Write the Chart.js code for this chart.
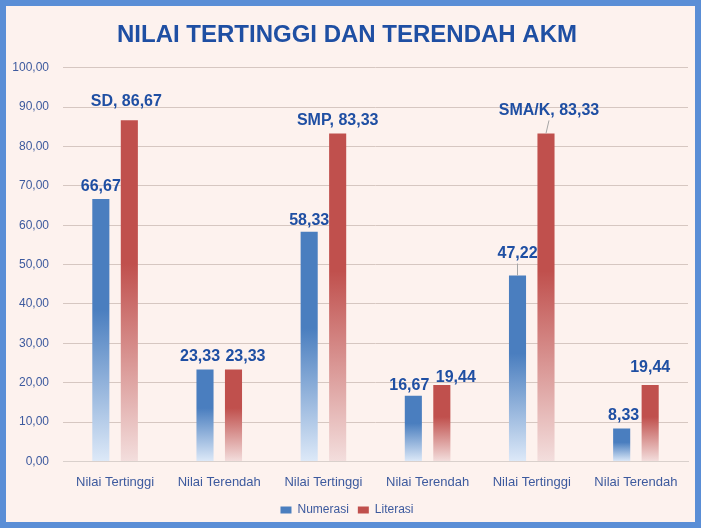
<!DOCTYPE html>
<html lang="en">
<head>
    <meta charset="UTF-8">
    <title>Nilai Tertinggi dan Terendah AKM</title>
    <script src="https://cdn.jsdelivr.net/npm/chart.js"></script>
    <style>
        html, body { margin: 0; padding: 0; background: #fdf2ee; }
        #wrap { width: 701px; height: 528px; }
    </style>
</head>
<body>
    <div id="wrap"><canvas id="akmChart" width="701" height="528"></canvas></div>

    <script>
        // data
        const categories = ["Nilai Tertinggi", "Nilai Terendah", "Nilai Tertinggi", "Nilai Terendah", "Nilai Tertinggi", "Nilai Terendah"];
        const numerasi = [66.67, 23.33, 58.33, 16.67, 47.22, 8.33];
        const literasi = [86.67, 23.33, 83.33, 19.44, 83.33, 19.44];
        const literasiPrefix = ["SD", "", "SMP", "", "SMA/K", ""];
        const yTicks = [0, 10, 20, 30, 40, 50, 60, 70, 80, 90, 100];

        const blueTop = "#4a7ebf", blueBottom = "#dde9f8";
        const redTop = "#c0504d", redBottom = "#f3dedd";

        // label nudges (dx, dy), per dataset
        const labelNudge = [
            [[0, 1], [-5, 0], [0, 2], [-4, 3], [0, -9], [2, 0]],
            [[-3, -6], [12, 0], [0, 0], [14, 6], [3, -10], [0, -4]]
        ];
        const leaderLines = [[4, 0], [4, 1]]; // [category, dataset]

        function fmt(v) { return v.toFixed(2).replace(".", ","); }

        function barGradient(top, bottom) {
            return function (ctx) {
                const chart = ctx.chart;
                if (!chart.chartArea || ctx.type !== "data") return top;
                const y = chart.scales.y;
                const y0 = y.getPixelForValue(ctx.raw);
                const y1 = y.getPixelForValue(0);
                const g = chart.ctx.createLinearGradient(0, y0, 0, y1);
                g.addColorStop(0, top);
                g.addColorStop(0.42, top);
                g.addColorStop(1, bottom);
                return g;
            };
        }

        const framePlugin = {
            id: "frame",
            beforeDraw(chart) {
                const c = chart.ctx;
                c.save();
                c.fillStyle = "#fdf2ee";
                c.fillRect(0, 0, chart.width, chart.height);
                c.strokeStyle = "#5a8ed6";
                c.lineWidth = 6;
                c.strokeRect(3, 3, chart.width - 6, chart.height - 6);
                c.restore();
            }
        };

        const valueLabels = {
            id: "valueLabels",
            afterDatasetsDraw(chart) {
                const c = chart.ctx;
                c.save();
                // leader lines first
                c.strokeStyle = "#a6a6a6";
                c.lineWidth = 1;
                leaderLines.forEach(([i, d]) => {
                    const bar = chart.getDatasetMeta(d).data[i];
                    const n = labelNudge[d][i];
                    c.beginPath();
                    c.moveTo(bar.x + n[0], bar.y - 13 + n[1] + 10);
                    c.lineTo(bar.x, bar.y);
                    c.stroke();
                });
                c.font = "bold 16px 'Liberation Sans', Arial, sans-serif";
                c.fillStyle = "#1f4fa3";
                c.textAlign = "center";
                c.textBaseline = "middle";
                chart.data.datasets.forEach((ds, d) => {
                    chart.getDatasetMeta(d).data.forEach((bar, i) => {
                        const n = labelNudge[d][i];
                        let txt = fmt(ds.data[i]);
                        if (d === 1 && literasiPrefix[i]) txt = literasiPrefix[i] + ", " + txt;
                        c.fillText(txt, bar.x + n[0], bar.y - 13 + n[1]);
                    });
                });
                c.restore();
            }
        };

        new Chart(document.getElementById("akmChart"), {
            type: "bar",
            data: {
                labels: categories,
                datasets: [
                    { label: "Numerasi", data: numerasi, backgroundColor: barGradient(blueTop, blueBottom) },
                    { label: "Literasi", data: literasi, backgroundColor: barGradient(redTop, redBottom) }
                ]
            },
            options: {
                responsive: false,
                animation: false,
                devicePixelRatio: 1,
                categoryPercentage: 0.547,
                barPercentage: 0.6,
                layout: { padding: { left: 6, right: 13, top: 19, bottom: 2 } },
                plugins: {
                    title: {
                        display: true,
                        text: "NILAI TERTINGGI DAN TERENDAH AKM",
                        color: "#1f4fa3",
                        font: { family: "'Liberation Sans', Arial, sans-serif", size: 24, weight: "bold" },
                        padding: { top: 2, bottom: 18 }
                    },
                    legend: {
                        position: "bottom",
                        labels: {
                            color: "#3d5a9e",
                            boxWidth: 11,
                            boxHeight: 7,
                            padding: 9,
                            font: { family: "'Liberation Sans', Arial, sans-serif", size: 12 },
                            generateLabels(chart) {
                                return chart.data.datasets.map((ds, i) => ({
                                    text: ds.label,
                                    fillStyle: i === 0 ? blueTop : redTop,
                                    strokeStyle: "transparent",
                                    lineWidth: 0,
                                    fontColor: "#3d5a9e",
                                    datasetIndex: i
                                }));
                            }
                        }
                    },
                    tooltip: { enabled: false }
                },
                scales: {
                    x: {
                        grid: { display: false },
                        border: { color: "#d9d0cc" },
                        ticks: {
                            color: "#3d5a9e",
                            padding: 5,
                            maxRotation: 0,
                            font: { family: "'Liberation Sans', Arial, sans-serif", size: 13 }
                        }
                    },
                    y: {
                        min: 0,
                        max: 100,
                        afterFit(scale) { scale.width = 57; },
                        afterBuildTicks(scale) { scale.ticks = yTicks.map(v => ({ value: v })); },
                        grid: { color: "#d6c7c1", drawTicks: false },
                        border: { display: false },
                        ticks: {
                            color: "#3d5a9e",
                            padding: 14,
                            callback: v => fmt(v),
                            font: { family: "'Liberation Sans', Arial, sans-serif", size: 12 }
                        }
                    }
                }
            },
            plugins: [framePlugin, valueLabels]
        });
    </script>
</body>
</html>
